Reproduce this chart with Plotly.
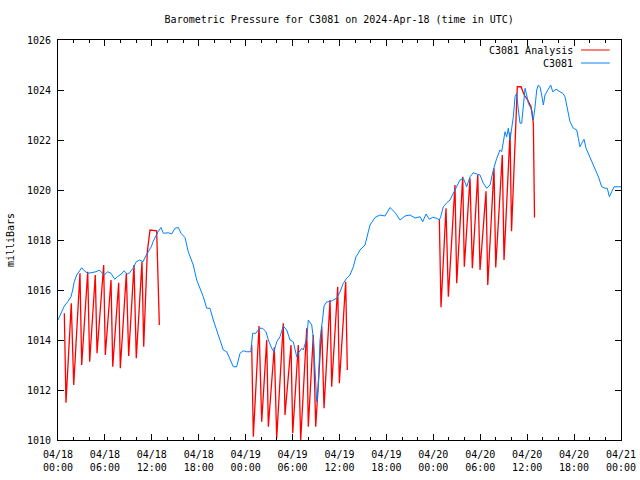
import plotly.graph_objects as go
import pandas as pd

# ---- data (hours since 2024-04-18 00:00 UTC, pressure in mbar) ----
blue_hours = [0.0,0.81,1.24,1.66,1.88,2.08,2.39,2.72,3.03,3.36,
              3.80,4.22,4.86,5.28,5.63,5.92,6.36,6.78,7.25,7.58,
              8.10,8.44,8.86,9.17,9.59,10.01,10.45,10.87,11.29,11.73,
              11.93,12.15,12.37,12.57,12.79,13.17,13.47,14.11,14.54,14.96,
              15.39,15.73,16.24,16.66,17.30,17.74,18.16,18.58,19.02,19.44,
              19.86,20.30,20.72,21.14,21.58,22.00,22.42,22.85,23.28,23.70,
              24.13,24.65,24.90,25.32,25.74,26.18,26.60,26.90,27.33,27.62,
              27.97,28.39,28.81,29.25,29.67,30.09,30.53,30.73,31.17,31.37,
              31.81,32.01,32.45,32.65,32.87,33.09,33.29,33.51,33.85,34.02,
              34.37,34.79,35.21,35.64,36.07,36.49,36.92,37.34,37.77,38.11,
              38.41,38.62,39.26,39.90,40.54,41.18,41.82,42.46,43.10,43.74,
              44.38,45.02,45.66,46.30,46.64,47.07,47.49,47.92,48.43,48.77,
              48.94,49.28,49.71,50.13,50.56,50.99,51.41,51.84,52.27,52.69,
              53.11,53.55,53.97,54.39,54.83,55.25,55.67,56.11,56.53,56.74,
              56.95,57.17,57.38,57.59,57.81,58.02,58.23,58.45,58.66,58.87,
              59.09,59.30,59.51,59.73,59.94,60.15,60.58,60.79,61.01,61.22,
              61.43,61.64,61.86,62.07,62.28,62.71,63.01,63.27,63.69,64.20,
              64.55,64.84,65.06,65.26,65.48,65.90,66.34,66.54,66.76,66.98,
              67.27,67.53,67.82,68.26,68.68,69.11,69.53,69.96,70.25,70.51,
              70.81,71.11,71.66,72.0]
blue_values = [1014.8,1015.36,1015.53,1015.73,1016.0,1016.33,1016.6,1016.73,1016.89,1016.77,
               1016.67,1016.69,1016.73,1016.8,1016.67,1016.6,1016.73,1016.67,1016.43,1016.53,
               1016.64,1016.77,1016.64,1016.69,1016.87,1017.13,1017.2,1017.13,1017.4,1017.6,
               1017.73,1017.93,1018.07,1018.2,1018.33,1018.5,1018.27,1018.29,1018.24,1018.47,
               1018.5,1018.27,1018.1,1017.53,1017.0,1016.4,1016.07,1015.73,1015.27,1015.27,
               1014.8,1014.4,1013.93,1013.6,1013.53,1013.2,1012.93,1012.93,1013.47,1013.57,
               1013.53,1013.53,1014.27,1014.27,1014.47,1014.47,1014.33,1014.0,1013.67,1013.53,
               1013.93,1014.13,1014.56,1014.4,1014.0,1013.93,1013.33,1013.47,1013.67,1013.6,
               1014.07,1014.8,1014.6,1014.07,1012.93,1011.53,1012.13,1014.0,1014.87,1015.36,
               1015.53,1015.53,1015.6,1015.67,1015.93,1016.27,1016.47,1016.6,1016.93,1017.33,
               1017.47,1017.6,1017.8,1018.6,1018.9,1019.0,1018.96,1019.3,1019.1,1018.8,
               1018.96,1019.0,1018.88,1018.93,1018.73,1019.04,1018.83,1018.91,1018.87,1018.8,
               1018.93,1019.33,1019.49,1019.6,1019.87,1020.13,1020.4,1020.47,1020.13,1020.53,
               1020.69,1020.64,1020.6,1020.27,1020.07,1020.2,1020.8,1021.27,1021.6,1021.53,
               1021.93,1022.33,1022.13,1022.47,1022.0,1022.4,1022.93,1023.73,1023.87,1023.2,
               1022.67,1022.67,1023.47,1024.07,1023.8,1023.47,1023.2,1022.8,1023.33,1024.0,
               1024.2,1024.13,1023.8,1023.4,1023.8,1024.07,1024.2,1023.93,1024.03,1023.93,
               1023.87,1023.73,1023.4,1023.0,1022.73,1022.47,1022.4,1022.07,1021.73,1021.87,
               1022.03,1021.67,1021.47,1021.13,1020.87,1020.53,1020.13,1020.07,1020.07,1019.73,
               1019.93,1020.13,1020.13,1020.13]

red1_hours = [0.81,1.02,1.70,2.01,2.81,3.03,3.80,4.05,4.77,4.99,5.84,6.05,6.78,7.00,
              7.76,7.97,8.74,9.04,9.72,10.01,10.74,10.96,11.42,11.77,12.62,12.83,12.96]
red1_values = [1015.07,1011.49,1015.47,1012.2,1016.67,1013.0,1016.73,1013.13,1016.6,1013.47,
               1017.0,1013.4,1016.4,1012.93,1016.29,1012.87,1016.67,1013.36,1017.0,1013.27,
               1017.13,1013.73,1017.53,1018.4,1018.37,1016.47,1014.6]
red2_hours = [24.77,24.98,25.71,26.05,26.69,26.90,27.66,27.97,28.81,29.03,29.80,30.02,30.73,
              31.04,31.81,32.01,32.65,32.96,33.73,34.02,34.79,35.00,35.77,35.98,36.79,37.00]
red2_values = [1013.8,1010.13,1014.56,1010.73,1014.0,1010.53,1013.71,1010.07,1014.67,1011.0,
               1013.8,1010.27,1013.8,1010.0,1014.47,1010.53,1014.2,1010.53,1014.53,1011.27,
               1015.6,1012.13,1016.13,1012.27,1016.33,1012.8]
red3_hours = [48.77,48.98,49.62,49.92,50.77,50.99,51.76,51.96,52.69,52.99,53.68,53.97,54.74,
              54.96,55.76,55.98,56.82,57.04,57.81,58.00,58.74,59.21,59.63,60.06,60.49,60.79,60.94]
red3_values = [1018.8,1015.31,1019.27,1015.73,1020.2,1016.27,1020.53,1016.93,1020.47,1016.87,
               1020.6,1016.8,1019.95,1016.2,1020.87,1016.9,1021.4,1017.2,1022.3,1018.35,
               1024.13,1024.13,1023.8,1023.6,1023.33,1022.67,1018.9]

series_names = ["C3081 Analysis", "C3081"]
series_colors = ["#ff0000", "#0080ff"]
y_range = [1010, 1026]
start = "2024-04-18 00:00"
end = "2024-04-21 00:00"

base = pd.Timestamp(start)


def to_time(hours):
    return [(base + pd.Timedelta(hours=h)).strftime("%Y-%m-%d %H:%M:%S") for h in hours]


red_x = to_time(red1_hours) + [None] + to_time(red2_hours) + [None] + to_time(red3_hours)
red_y = red1_values + [None] + red2_values + [None] + red3_values

MONO = "DejaVu Sans Mono"

fig = go.Figure()
fig.add_trace(go.Scatter(x=red_x, y=red_y, mode="lines", name=series_names[0],
                         line=dict(color=series_colors[0], width=1.3), connectgaps=False,
                         showlegend=False))
fig.add_trace(go.Scatter(x=to_time(blue_hours), y=blue_values, mode="lines", name=series_names[1],
                         line=dict(color=series_colors[1], width=1), showlegend=False))

# legend drawn gnuplot-style (text, then line sample on the right)
leg_y = [0.975, 0.9425]
for name, color, yy in zip(series_names, series_colors, leg_y):
    fig.add_annotation(xref="paper", yref="paper", x=0.918, y=yy, text=name, showarrow=False,
                       xanchor="right", yanchor="middle", font=dict(family=MONO, size=10, color="black"))
    fig.add_shape(type="line", xref="paper", yref="paper", x0=0.929, x1=0.98, y0=yy, y1=yy,
                  line=dict(color=color, width=1))

fig.update_layout(
    width=640, height=480,
    margin=dict(l=58, r=19, t=40, b=40, autoexpand=False),
    paper_bgcolor="white", plot_bgcolor="white",
    title=dict(text="Barometric Pressure for C3081 on 2024-Apr-18 (time in UTC)",
               x=0.53, y=0.96, xanchor="center", yanchor="middle", automargin=False,
               font=dict(family=MONO, size=10, color="black")),
    font=dict(family=MONO, size=10, color="black"),
)
fig.update_xaxes(type="date", range=[start, end], tick0=start, dtick=6 * 3600 * 1000,
                 tickformat="%m/%d<br>%H:%M", ticks="inside", ticklen=6, tickcolor="black",
                 showline=True, linecolor="black", linewidth=1, mirror="allticks",
                 showgrid=False, zeroline=False, automargin=False, ticklabelstandoff=5,
                 tickfont=dict(family=MONO, size=10, color="black"),
                 minor=dict(dtick=2 * 3600 * 1000, ticks="inside", ticklen=3, tickcolor="black",
                            showgrid=False))
fig.update_yaxes(range=y_range, dtick=2, ticks="inside", ticklen=6, tickcolor="black",
                 showline=True, linecolor="black", linewidth=1, mirror="allticks",
                 showgrid=False, zeroline=False, ticklabelstandoff=4, automargin=False,
                 tickfont=dict(family=MONO, size=10, color="black"),
                 title=dict(text="milliBars", font=dict(family=MONO, size=10, color="black"),
                            standoff=10))

fig.write_html("out.html", config={"displayModeBar": False},
               post_script="document.body.style.margin='0';document.body.style.padding='0';")
